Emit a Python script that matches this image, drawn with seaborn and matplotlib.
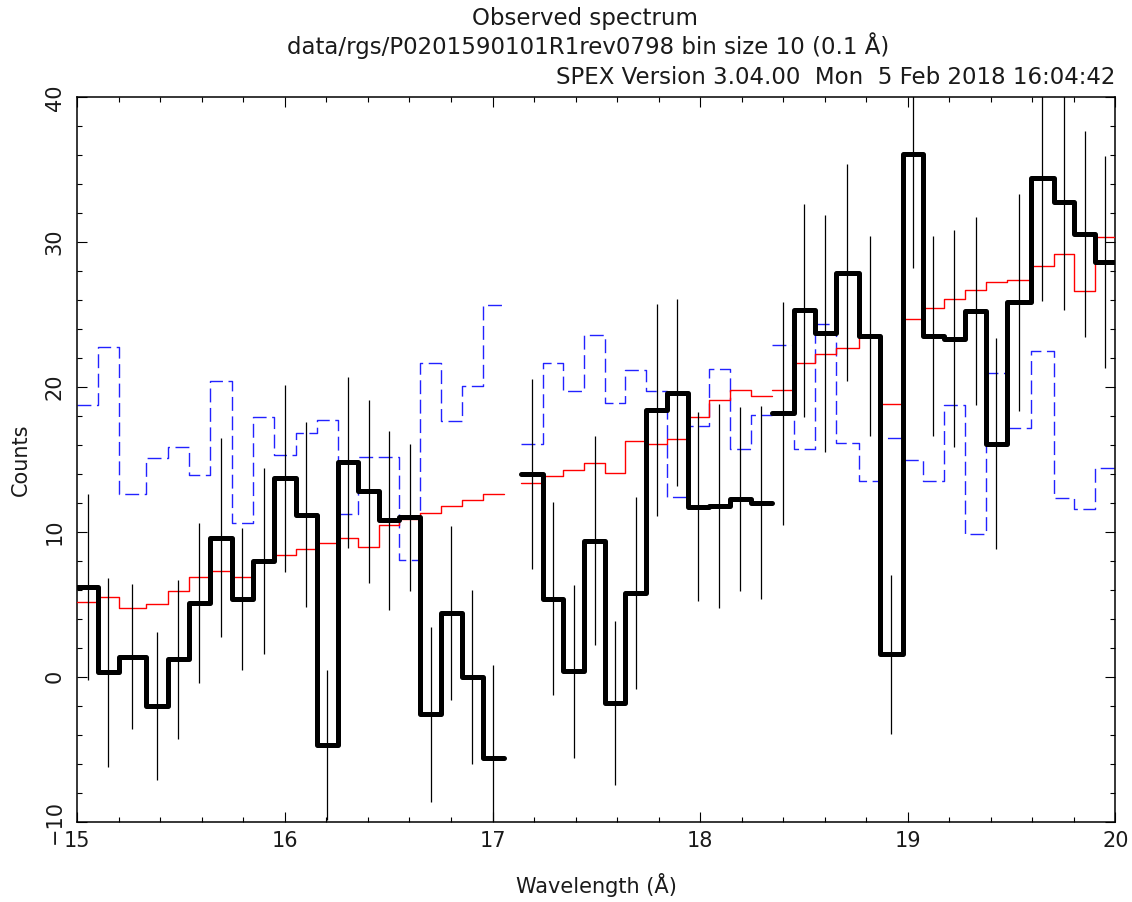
import numpy as np
import pandas as pd
import matplotlib
matplotlib.use("Agg")
import matplotlib.pyplot as plt
import seaborn as sns
from matplotlib.ticker import MultipleLocator

# ---------------- data ----------------
# bin edges (Angstrom) for the three contiguous data segments
seg1_edges = [15.000, 15.099, 15.201, 15.329, 15.437, 15.537, 15.638, 15.743, 15.847,
              15.947, 16.053, 16.153, 16.254, 16.354, 16.453, 16.551, 16.651, 16.753,
              16.852, 16.954, 17.053]
seg2_edges = [17.136, 17.241, 17.340, 17.442, 17.544, 17.640, 17.741, 17.841, 17.941,
              18.042, 18.143, 18.243, 18.348]
seg3_edges = [18.348, 18.452, 18.553, 18.653, 18.766, 18.867, 18.975, 19.074, 19.173,
              19.277, 19.377, 19.477, 19.594, 19.703, 19.803, 19.904, 20.000]

# observed counts
seg1_counts = [6.2, 0.3, 1.4, -2.0, 1.2, 5.1, 9.6, 5.4, 8.0, 13.7, 11.2, -4.7, 14.8,
               12.8, 10.8, 11.0, -2.6, 4.4, 0.0, -5.6]
seg2_counts = [14.0, 5.4, 0.4, 9.4, -1.8, 5.8, 18.4, 19.6, 11.75, 11.8, 12.3, 12.0]
seg3_counts = [18.2, 25.3, 23.7, 27.9, 23.55, 1.55, 36.1, 23.55, 23.35, 25.27, 16.1,
               25.86, 34.45, 32.8, 30.55, 28.65]

# 1-sigma errors
seg1_errors = [6.4, 6.5, 5.0, 5.1, 5.5, 5.5, 6.85, 4.9, 6.4, 6.45, 6.4, 5.2, 5.9, 6.3,
               6.2, 5.05, 6.05, 6.0, 6.0, 6.4]
seg2_errors = [6.55, 6.67, 5.97, 7.2, 5.64, 6.63, 7.3, 6.46, 6.53, 7.04, 6.35, 6.66]
seg3_errors = [7.7, 7.36, 8.2, 7.5, 6.9, 5.5, 7.9, 6.9, 7.5, 6.5, 7.3, 7.5, 8.5, 7.45,
               7.1, 7.3]

# model (red)
seg1_model = [5.17, 5.48, 4.78, 5.01, 5.94, 6.92, 7.27, 6.88, 8.09, 8.44, 8.81, 9.21,
              9.60, 8.97, 10.49, 10.89, 11.31, 11.77, 12.19, 12.59]
seg2_model = [13.4, 13.87, 14.27, 14.73, 14.06, 16.25, 16.08, 16.39, 17.93, 19.1,
              19.78, 19.41]
seg3_model = [19.81, 21.66, 22.29, 22.72, 23.44, 18.82, 24.70, 25.43, 26.09, 26.68,
              27.28, 27.41, 28.33, 29.16, 26.62, 30.39]

# second curve (blue dashed)
seg1_blue = [18.76, 22.77, 12.63, 15.08, 15.85, 13.94, 20.4, 10.65, 17.95, 15.31, 16.83,
             17.72, 11.24, 15.2, 15.2, 8.04, 21.63, 17.65, 20.05, 25.64]
seg2_blue = [16.04, 21.63, 19.7, 23.59, 18.93, 21.21, 19.7, 12.42, 17.33, 21.22, 15.72,
             18.09]
seg3_blue = [22.88, 15.71, 24.37, 16.17, 13.53, 16.5, 14.95, 13.53, 18.75, 9.83, 20.97,
             17.2, 22.49, 12.31, 11.55, 14.39]

x_ticks = [15, 16, 17, 18, 19, 20]
y_ticks = [-10, 0, 10, 20, 30, 40]

title1 = "Observed spectrum"
title2 = "data/rgs/P0201590101R1rev0798 bin size 10 (0.1 Å)"
title3 = "SPEX Version 3.04.00  Mon  5 Feb 2018 16:04:42"

segments = [
    (seg1_edges, seg1_counts, seg1_errors, seg1_model, seg1_blue),
    (seg2_edges, seg2_counts, seg2_errors, seg2_model, seg2_blue),
    (seg3_edges, seg3_counts, seg3_errors, seg3_model, seg3_blue),
]

# ---------------- plotting ----------------
sns.set_theme(style="ticks")
plt.rcParams["font.family"] = ["DejaVu Sans"]

W, H = 1132, 902
fig = plt.figure(figsize=(W / 100, H / 100), dpi=100)
ax = fig.add_axes([77.3 / W, 1 - 821.7 / H, (1115.3 - 77.3) / W, (821.7 - 97.3) / H])

for edges, counts, errs, model, blue in segments:
    e = np.asarray(edges)
    step = lambda v: np.append(np.asarray(v, float), v[-1])
    df = pd.DataFrame({"x": e, "obs": step(counts), "mod": step(model), "blue": step(blue)})
    sns.lineplot(data=df, x="x", y="blue", ax=ax, estimator=None, sort=False,
                 drawstyle="steps-post", color="#2222ff", lw=1.0,
                 linestyle=(0, (10, 4)), zorder=2)
    sns.lineplot(data=df, x="x", y="mod", ax=ax, estimator=None, sort=False,
                 drawstyle="steps-post", color="#ff0000", lw=1.0, zorder=3)
    centers = 0.5 * (e[:-1] + e[1:])
    ax.errorbar(centers, counts, yerr=errs, fmt="none", ecolor="black",
                elinewidth=0.9, capsize=0, zorder=4)
    sns.lineplot(data=df, x="x", y="obs", ax=ax, estimator=None, sort=False,
                 drawstyle="steps-post", color="black", lw=3.6,
                 solid_capstyle="round", solid_joinstyle="round", zorder=5)

ax.set_xlim(15, 20)
ax.set_ylim(-10, 40)
ax.set_xticks(x_ticks)
ax.set_yticks(y_ticks)
ax.set_xticklabels([str(t) for t in x_ticks])
ax.set_yticklabels([("\u2212" + str(-t)) if t < 0 else str(t) for t in y_ticks],
                   rotation=90, va="center")
ax.xaxis.set_minor_locator(MultipleLocator(0.2))
ax.yaxis.set_minor_locator(MultipleLocator(2))
ax.tick_params(which="both", direction="in", top=True, right=True,
               width=0.8, color="black", labelsize=15, labelcolor="#1a1a1a")
ax.tick_params(which="major", length=7.2)
ax.tick_params(which="minor", length=3.6)
ax.tick_params(axis="x", which="major", pad=7)
ax.tick_params(axis="y", which="major", pad=9)
for sp in ax.spines.values():
    sp.set_linewidth(1.1)
    sp.set_color("black")
ax.set_xlabel("")
ax.set_ylabel("")
ax.grid(False)

fig.text(596 / W, 1 - 885 / H, "Wavelength (Å)", ha="center", va="center",
         fontsize=15, color="#1a1a1a")
fig.text(21 / W, 1 - 460 / H, "Counts", ha="center", va="center", rotation=90,
         fontsize=15, color="#1a1a1a")
fig.text(585 / W, 1 - 18 / H, title1, ha="center", va="center", fontsize=16.5,
         color="#1a1a1a")
fig.text(588 / W, 1 - 46 / H, title2, ha="center", va="center", fontsize=16.5,
         color="#1a1a1a")
fig.text(1115 / W, 1 - 78 / H, title3, ha="right", va="center", fontsize=16.5,
         color="#1a1a1a")

fig.savefig("out.png", dpi=100, facecolor="white")
